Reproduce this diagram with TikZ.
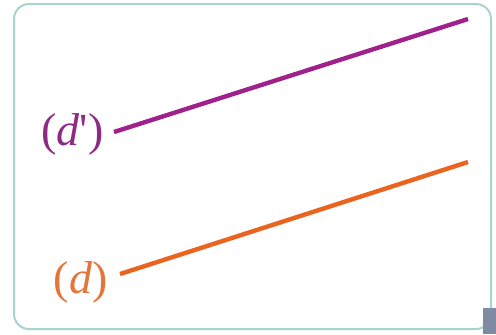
\documentclass[tikz,border=0pt]{standalone}
\usepackage{fontspec}
\setmainfont{Liberation Serif}
\usetikzlibrary{positioning}
\definecolor{linepurple}{HTML}{A0218C}
\definecolor{lineorange}{HTML}{EA6420}
\definecolor{labpurple}{HTML}{8E2A84}
\definecolor{laborange}{HTML}{E3763A}
\definecolor{framecol}{HTML}{A9D3CF}
\definecolor{cornergray}{HTML}{7E8BA2}
\begin{document}
\begin{tikzpicture}[x=0.5pt, y=-0.5pt, node distance=2pt]
            % Define styles
            \tikzstyle{frame} = [draw=framecol, line width=1pt, rounded corners=7.5pt]
            \tikzstyle{dline} = [line width=2.2pt]
            \tikzstyle{dlabel} = [inner sep=0pt, font=\fontsize{23}{26}\selectfont]

            \useasboundingbox (0,0) rectangle (496,334);

            % Frame
            \draw [frame] (14,4) rectangle (491,329);
            \fill [cornergray] (483,308) rectangle (496,334);

            % Line ends
            \coordinate (dpA) at (114,132);
            \coordinate (dpB) at (468,19);
            \coordinate (dA) at (120,274);
            \coordinate (dB) at (468,162);

            % Labels
            \node (dplabel) [dlabel, text=labpurple, left=5pt of dpA, yshift=-1pt] {(\textit{d}\textquotesingle)};
            \node (dlabel) [dlabel, text=laborange, left=6pt of dA, yshift=-4pt] {(\textit{d})};

            % Lines
            \draw [dline, linepurple] (dpA) -- (dpB);
            \draw [dline, lineorange] (dA) -- (dB);

      \end{tikzpicture}
\end{document}
